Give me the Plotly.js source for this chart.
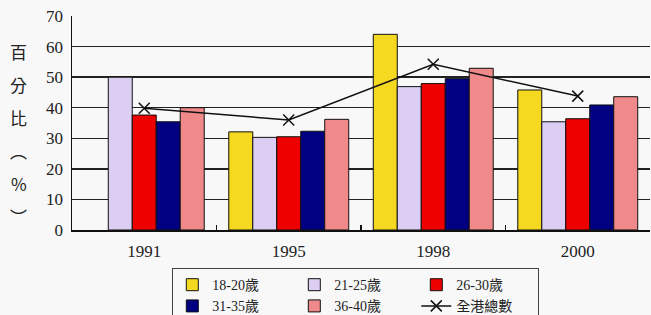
<!DOCTYPE html>
<html>
<head>
<meta charset="utf-8">
<script src="https://cdn.plot.ly/plotly-3.0.1.min.js"></script>
<style>html,body{margin:0;padding:0;background:#f8f8f8;}#chart{width:651px;height:315px;}</style>
</head>
<body>
<div id="chart"></div>
<script>
var years = ['1991', '1995', '1998', '2000'];
var age18_20 = [null, 32.1, 64.0, 45.8];
var age21_25 = [50.0, 30.3, 46.9, 35.4];
var age26_30 = [37.6, 30.5, 47.9, 36.4];
var age31_35 = [35.4, 32.3, 49.5, 40.9];
var age36_40 = [40.0, 36.2, 52.9, 43.6];
var overall = [39.8, 36.0, 54.2, 43.8];
var seriesNames = ['18-20歲', '21-25歲', '26-30歲', '31-35歲', '36-40歲', '全港總數'];
var yTitle = '百分比︵%︶';

var serif = 'Liberation Serif, "Times New Roman", "Noto Sans CJK TC", serif';
var colors = ['#f5d820', '#dccdf2', '#ee0000', '#000080', '#f08a8a'];
var barData = [age18_20, age21_25, age26_30, age31_35, age36_40];
var groups = ['g1', 'g2', 'g3', 'g1', 'g2'];

var traces = barData.map(function (vals, i) {
  return {
    type: 'bar', x: years, y: vals, name: seriesNames[i],
    legendgroup: groups[i],
    marker: {color: colors[i], line: {color: '#111', width: 1}},
    hoverinfo: 'skip'
  };
});
traces.push({
  type: 'scatter', mode: 'lines+markers', x: years, y: overall, name: seriesNames[5],
  legendgroup: 'g3',
  line: {color: '#111', width: 1.5},
  marker: {symbol: 'x-thin', size: 11, line: {color: '#111', width: 1.5}, color: '#111'},
  hoverinfo: 'skip'
});

var annotations = Array.from(yTitle).map(function (ch, i) {
  return {
    xref: 'paper', yref: 'paper', x: -0.092, y: 0.832 - i * 0.154,
    text: ch, showarrow: false, xanchor: 'center', yanchor: 'middle',
    font: {family: '"Noto Sans CJK TC", serif', size: 17, color: '#222'}
  };
});

var layout = {
  width: 651, height: 315,
  margin: {l: 72, r: 1, t: 16, b: 85, autoexpand: false},
  paper_bgcolor: '#f8f8f8', plot_bgcolor: '#f8f8f8',
  barmode: 'group', bargap: 0.17, bargroupgap: 0,
  showlegend: true,
  font: {family: serif, size: 16, color: '#222'},
  xaxis: {
    type: 'category', showgrid: false, showline: true, linecolor: '#111', linewidth: 1.5,
    ticks: 'inside', tickson: 'boundaries', ticklen: 5, tickcolor: '#111', tickwidth: 1.5,
    ticklabelstandoff: 5,
    tickfont: {family: serif, size: 17, color: '#222'}, fixedrange: true
  },
  yaxis: {
    range: [0, 70], dtick: 10, tick0: 0, showgrid: true, gridcolor: '#222', gridwidth: 1.5,
    showline: true, linecolor: '#111', linewidth: 1.5, zeroline: false,
    ticks: '', ticklabelstandoff: 4,
    tickfont: {family: serif, size: 17, color: '#222'}, fixedrange: true
  },
  legend: {
    orientation: 'h', traceorder: 'grouped', tracegroupgap: 0,
    entrywidth: 77, entrywidthmode: 'pixels',
    x: 0.491, xanchor: 'center', y: -0.178, yanchor: 'top',
    bgcolor: 'rgba(0,0,0,0)', bordercolor: '#444', borderwidth: 1,
    font: {family: serif, size: 14, color: '#222'},
    itemwidth: 30
  },
  annotations: annotations
};

Plotly.newPlot('chart', traces, layout, {displayModeBar: false, staticPlot: true});
</script>
</body>
</html>
